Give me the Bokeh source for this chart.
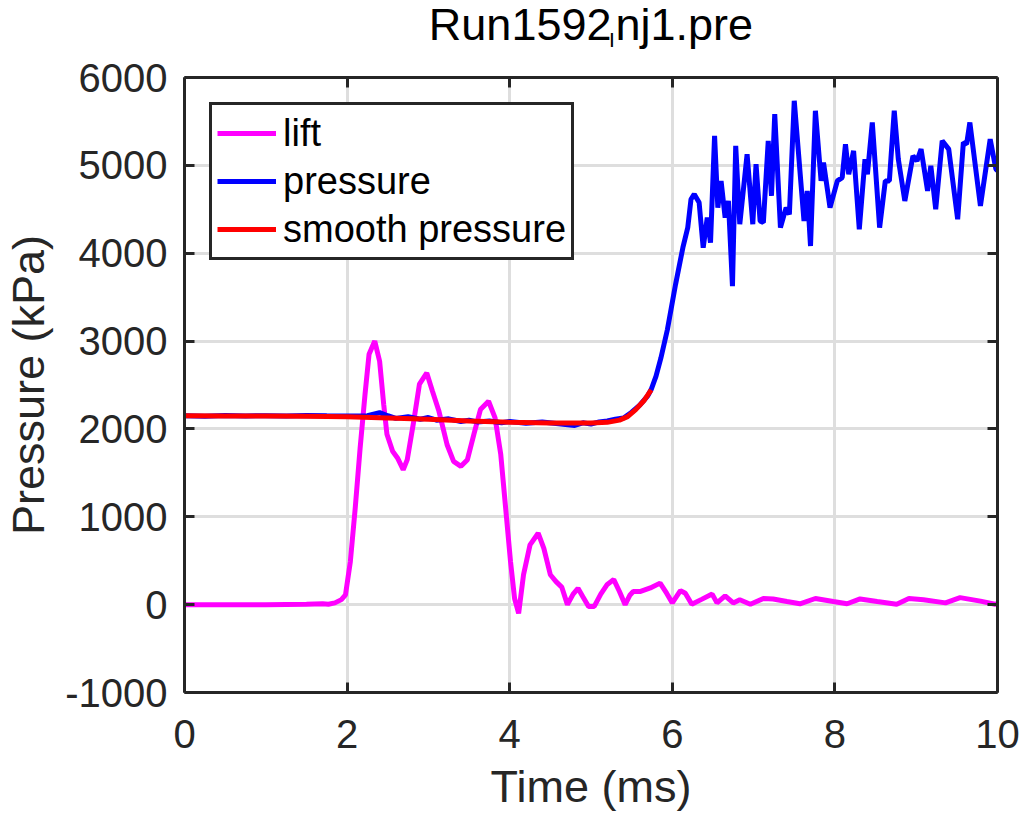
from bokeh.plotting import figure
from bokeh.models import LinearAxis, FixedTicker, Range1d
from bokeh.embed import file_html
from bokeh.resources import INLINE

# ---------------- data ----------------
title_main = "Run1592"
title_sub = "I"
title_rest = "nj1.pre"
x_label = "Time (ms)"
y_label = "Pressure (kPa)"
x_ticks = [0, 2, 4, 6, 8, 10]
y_ticks = [-1000, 0, 1000, 2000, 3000, 4000, 5000, 6000]

lift_t = [0, 0.5, 1.0, 1.5, 1.7, 1.77, 1.85, 1.93, 1.98, 2.04, 2.10, 2.16, 2.22, 2.27,
          2.34, 2.40, 2.45, 2.49, 2.56, 2.62, 2.69, 2.74, 2.82, 2.89, 2.98, 3.05, 3.13,
          3.23, 3.31, 3.40, 3.48, 3.56, 3.64, 3.74, 3.82, 3.89, 3.95, 4.01, 4.06, 4.11,
          4.17, 4.25, 4.35, 4.42, 4.50, 4.57, 4.64, 4.71, 4.78, 4.84, 4.90, 4.97, 5.04,
          5.12, 5.20, 5.28, 5.35, 5.42, 5.48, 5.52, 5.61, 5.73, 5.85, 5.93, 6.00, 6.10,
          6.16, 6.24, 6.36, 6.49, 6.55, 6.65, 6.75, 6.83, 6.96, 7.12, 7.24, 7.41, 7.57,
          7.76, 7.98, 8.15, 8.31, 8.52, 8.76, 8.91, 9.09, 9.36, 9.54, 9.79, 9.97, 10.0]
lift_v = [0, 0, 0, 5, 10, 5, 20, 57, 110, 490, 1100, 1780, 2390, 2850,
          3000, 2770, 2280, 1940, 1745, 1670, 1536, 1650, 2090, 2510, 2637, 2430, 2200,
          1820, 1630, 1574, 1650, 1940, 2220, 2315, 2125, 1710, 1100, 490, 70, -99,
          340, 680, 813, 640, 340, 262, 200, 0, 120, 186, 90, -20, -20,
          120, 230, 285, 150, 0, 110, 150, 150, 190, 245, 130, 20, 160,
          130, 5, 60, 120, 20, 100, 20, 55, 5, 70, 65, 35, 10,
          70, 35, 10, 65, 35, 5, 70, 55, 20, 80, 40, 5, 10]

pres_t = [0, 0.25, 0.5, 0.75, 1.0, 1.25, 1.5, 1.75, 2.0, 2.25, 2.4, 2.5, 2.6, 2.75,
          2.9, 3.0, 3.1, 3.25, 3.4, 3.5, 3.6, 3.75, 3.9, 4.0, 4.2, 4.4, 4.6, 4.8, 4.9,
          5.0, 5.1, 5.2, 5.3, 5.4, 5.5, 5.6, 5.7, 5.74, 5.8, 5.86, 5.94, 6.04, 6.13,
          6.19, 6.23, 6.27, 6.33, 6.38, 6.43, 6.47, 6.52, 6.56, 6.60, 6.65, 6.69, 6.74,
          6.78, 6.83, 6.92, 6.99, 7.03, 7.08, 7.12, 7.18, 7.22, 7.26, 7.33, 7.40, 7.44,
          7.50, 7.62, 7.66, 7.70, 7.76, 7.83, 7.86, 7.94, 8.03, 8.09, 8.13, 8.17, 8.23,
          8.30, 8.37, 8.40, 8.46, 8.55, 8.62, 8.67, 8.73, 8.78, 8.86, 8.96, 9.01, 9.06,
          9.14, 9.18, 9.24, 9.32, 9.40, 9.51, 9.58, 9.62, 9.66, 9.79, 9.91, 9.98, 10.0]
pres_v = [2150, 2145, 2152, 2148, 2150, 2146, 2153, 2149, 2147, 2150, 2185, 2150, 2120, 2140,
          2110, 2130, 2100, 2115, 2085, 2100, 2080, 2090, 2070, 2085, 2065, 2080, 2060, 2040, 2070,
          2055, 2080, 2090, 2110, 2125, 2190, 2270, 2380, 2448, 2600, 2808, 3132, 3645, 4063,
          4291, 4614, 4672, 4576, 4063, 4405, 4120, 5336, 4519, 4823, 4405, 4595, 3626,
          5222, 4330, 5127, 4330, 5013, 4367, 4348, 5279, 4652, 5584, 4291, 4519, 4443,
          5735, 4367, 4709, 4082, 5621, 4823, 5032, 4519, 4823, 4861, 5241, 4899, 5165,
          4272, 5070, 4899, 5488, 4291, 4823, 4823, 5621, 5070, 4595, 5108, 5051, 5185,
          4709, 4994, 4500, 5279, 5185, 4386, 5260, 5241, 5488, 4538, 5298, 4957, 4940]

smooth_t = [0, 0.5, 1.0, 1.5, 2.0, 2.5, 3.0, 3.5, 4.0, 4.5, 5.0, 5.2, 5.35, 5.45, 5.55, 5.65, 5.74]
smooth_v = [2150, 2148, 2146, 2143, 2140, 2125, 2110, 2090, 2075, 2068, 2068, 2075, 2100, 2140,
            2220, 2320, 2445]

series_names = ["lift", "pressure", "smooth pressure"]
series_colors = ["#ff00ff", "#0000ff", "#ff0000"]

# ---------------- figure ----------------
FONT = "Liberation Sans"
DARK = "#262626"

# canvas is 5px taller and shifted up by 5px so that the title can sit higher
p = figure(width=1024, height=822, x_range=Range1d(0, 10), y_range=Range1d(-1000, 6000),
           output_backend="svg", toolbar_location=None,
           min_border_left=184, min_border_right=27, min_border_top=82, min_border_bottom=125)
p.styles = {"margin-top": "-5px"}
p.background_fill_color = "white"
p.border_fill_color = "white"
p.outline_line_color = None

p.line(lift_t, lift_v, color=series_colors[0], line_width=5, legend_label=series_names[0])
p.line(pres_t, pres_v, color=series_colors[1], line_width=5, legend_label=series_names[1])
p.line(smooth_t, smooth_v, color=series_colors[2], line_width=5, legend_label=series_names[2])

for axis in (p.xaxis[0], p.yaxis[0]):
    axis.axis_line_color = DARK
    axis.axis_line_width = 3
    axis.major_tick_line_color = DARK
    axis.major_tick_line_width = 3
    axis.major_tick_in = 10
    axis.major_tick_out = 0
    axis.minor_tick_line_color = None
    axis.minor_tick_out = 0
    axis.major_label_text_font = FONT
    axis.major_label_text_font_size = "40px"
    axis.major_label_text_color = DARK
    axis.axis_label_text_font = FONT
    axis.axis_label_text_font_size = "45px"
    axis.axis_label_text_font_style = "normal"
    axis.axis_label_text_color = DARK

p.xaxis[0].ticker = FixedTicker(ticks=x_ticks)
p.yaxis[0].ticker = FixedTicker(ticks=y_ticks)
p.yaxis[0].major_label_overrides = {t: str(t) for t in y_ticks}
p.xaxis[0].axis_label = x_label
p.yaxis[0].axis_label = y_label
p.xaxis[0].major_label_standoff = 27
p.yaxis[0].major_label_standoff = 17
p.xaxis[0].axis_label_standoff = 10
p.yaxis[0].axis_label_standoff = 8

# title pieces are placed as tick labels of the top axes (annotations are clipped to the frame)
frame_px_per_ms = 81.3
w_main = 4.058 * 45
w_rest = 3.057 * 45
pos_main = round((611 - w_main / 2 - 184) / frame_px_per_ms, 3)
pos_sub = round((611.5 - 184) / frame_px_per_ms, 3)
pos_rest = round((615 + w_rest / 2 - 184) / frame_px_per_ms, 3)

# top border: box line + inward ticks (as minor ticks) + main title text (as labels)
top = LinearAxis(ticker=FixedTicker(ticks=[pos_main, pos_rest], minor_ticks=x_ticks))
top.major_label_overrides = {pos_main: title_main, pos_rest: title_rest}
top.axis_line_color = DARK
top.axis_line_width = 3
top.major_tick_line_color = None
top.major_tick_in = 0
top.major_tick_out = 0
top.minor_tick_line_color = DARK
top.minor_tick_line_width = 3
top.minor_tick_in = 10
top.minor_tick_out = 0
top.major_label_text_font = FONT
top.major_label_text_font_size = "45px"
top.major_label_text_color = "#000000"
top.major_label_standoff = 28
p.add_layout(top, "above")

sub = LinearAxis(ticker=FixedTicker(ticks=[pos_sub], minor_ticks=[]))
sub.major_label_overrides = {pos_sub: title_sub}
sub.axis_line_color = None
sub.major_tick_line_color = None
sub.minor_tick_line_color = None
sub.major_tick_in = 0
sub.major_tick_out = 0
sub.minor_tick_in = 0
sub.minor_tick_out = 0
sub.major_label_text_font = FONT
sub.major_label_text_font_size = "21px"
sub.major_label_text_color = "#000000"
sub.major_label_standoff = -55
p.add_layout(sub, "above")

right = LinearAxis(ticker=FixedTicker(ticks=y_ticks))
right.axis_line_color = DARK
right.axis_line_width = 3
right.major_tick_line_color = DARK
right.major_tick_line_width = 3
right.major_tick_in = 10
right.major_tick_out = 0
right.minor_tick_line_color = None
right.minor_tick_out = 0
right.major_label_text_font_size = "1px"
right.major_label_text_color = None
right.major_label_standoff = 0
p.add_layout(right, "right")

p.xgrid.ticker = FixedTicker(ticks=x_ticks)
p.ygrid.ticker = FixedTicker(ticks=y_ticks)
for g in (p.xgrid[0], p.ygrid[0]):
    g.grid_line_color = "#dedede"
    g.grid_line_width = 3

lg = p.legend[0]
lg.location = "top_left"
lg.margin = 25
lg.padding = 5
lg.spacing = 2
lg.glyph_width = 59
lg.glyph_height = 46
lg.label_height = 46
lg.label_standoff = 7
lg.label_text_font = FONT
lg.label_text_font_size = "38px"
lg.label_text_color = "#000000"
lg.border_line_color = DARK
lg.border_line_width = 3
lg.border_line_alpha = 1.0
lg.background_fill_color = "white"
lg.background_fill_alpha = 1.0

open("out.html", "w").write(file_html(p, INLINE))
